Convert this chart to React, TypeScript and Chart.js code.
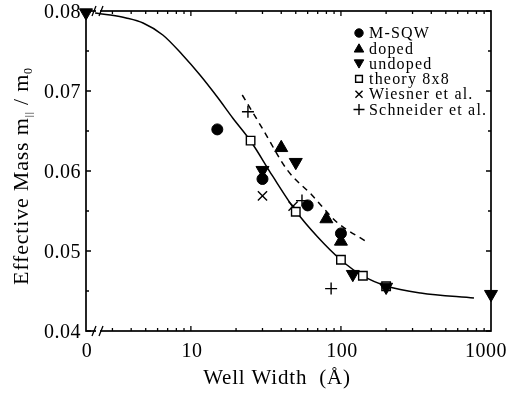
import React, { useEffect, useRef } from 'react';
import { Chart, registerables } from 'chart.js';
import { drawPoint } from 'chart.js/helpers';

Chart.register(...registerables);

const FONT = "'Liberation Serif', 'Times New Roman', serif";

// Axis: "0" sits at the axis break, drawn at this width on the log scale
const X_ZERO = 2;
const X_MAX = 1000;
const Y_MIN = 0.04;
const Y_MAX = 0.08;

const xTickValues = [X_ZERO, 10, 100, 1000];
const xTickLabels = ['0', '10', '100', '1000'];
const xMinorTicks = [3, 4, 5, 6, 7, 8, 9, 20, 30, 40, 50, 60, 70, 80, 90, 200, 300, 400, 500, 600, 700, 800, 900];
const yTickValues = [0.04, 0.05, 0.06, 0.07, 0.08];
const yTickLabels = ['0.04', '0.05', '0.06', '0.07', '0.08'];
const yMinorTicks = [0.045, 0.055, 0.065, 0.075];

const xTitle = 'Well Width  (Å)';

// Series (well width in Å, effective mass in m0)
const mSqwW = [15, 30, 60, 100];
const mSqwM = [0.0652, 0.059, 0.0557, 0.0522];

const dopedW = [40, 80, 100];
const dopedM = [0.0629, 0.054, 0.0512];

const undopedW = [X_ZERO, 30, 50, 120, 200, 1000];
const undopedM = [0.0798, 0.0601, 0.0611, 0.0471, 0.0455, 0.0446];

const theoryW = [25, 50, 100, 140, 200];
const theoryM = [0.0638, 0.0549, 0.0489, 0.0469, 0.0456];

const wiesnerW = [30, 48];
const wiesnerM = [0.0569, 0.0556];

const schneiderW = [24, 55, 86];
const schneiderM = [0.0674, 0.0563, 0.0453];

// Solid theory curve
const fitW = [2.3, 2.9, 3.7, 4.8, 6.5, 8.8, 11.5, 15, 19, 25, 35, 50, 70, 100, 140, 200, 340, 770];
const fitM = [0.07975, 0.0795, 0.07913, 0.0785, 0.077, 0.0745, 0.072, 0.06925, 0.06663, 0.06375, 0.05938, 0.055, 0.05175, 0.04888, 0.04688, 0.04563, 0.04475, 0.04413];

// Dashed curve
const dashW = [22, 30, 44, 64, 94, 150];
const dashM = [0.0695, 0.0653, 0.0601, 0.057, 0.0536, 0.0511];

const seriesNames = ['M-SQW', 'doped', 'undoped', 'theory 8x8', 'Wiesner et al.', 'Schneider et al.'];

const pts = (xs: number[], ys: number[]) => xs.map((x, i) => ({ x, y: ys[i] }));

const markerStyles = [
  { pointStyle: 'circle', radius: 5.5, rotation: 0, fill: '#000', lw: 1, legendR: 4.2 },
  { pointStyle: 'triangle', radius: 7.5, rotation: 0, fill: '#000', lw: 1, legendR: 5.5 },
  { pointStyle: 'triangle', radius: 7.5, rotation: 180, fill: '#000', lw: 1, legendR: 5.5 },
  { pointStyle: 'rect', radius: 6, rotation: 0, fill: '#fff', lw: 1.4, legendR: 4.8 },
  { pointStyle: 'crossRot', radius: 6.5, rotation: 0, fill: '#000', lw: 1.4, legendR: 5 },
  { pointStyle: 'cross', radius: 6, rotation: 0, fill: '#000', lw: 1.4, legendR: 5.5 },
];

const framePlugin = {
  id: 'frame',
  beforeDatasetsDraw(chart: any) {
    const { ctx, chartArea: a, scales } = chart;
    const x = scales.x;
    const y = scales.y;
    ctx.save();
    ctx.strokeStyle = '#000';
    ctx.lineWidth = 1.7;
    ctx.strokeRect(a.left, a.top, a.right - a.left, a.bottom - a.top);

    ctx.lineWidth = 1.3;
    ctx.beginPath();
    for (const v of yTickValues) {
      const py = y.getPixelForValue(v);
      ctx.moveTo(a.left, py); ctx.lineTo(a.left + 5, py);
      ctx.moveTo(a.right, py); ctx.lineTo(a.right - 5, py);
    }
    for (const v of yMinorTicks) {
      const py = y.getPixelForValue(v);
      ctx.moveTo(a.left, py); ctx.lineTo(a.left + 3, py);
      ctx.moveTo(a.right, py); ctx.lineTo(a.right - 3, py);
    }
    for (const v of xTickValues.slice(1, -1)) {
      const px = x.getPixelForValue(v);
      ctx.moveTo(px, a.top); ctx.lineTo(px, a.top + 5);
      ctx.moveTo(px, a.bottom); ctx.lineTo(px, a.bottom - 5);
    }
    for (const v of xMinorTicks) {
      const px = x.getPixelForValue(v);
      ctx.moveTo(px, a.top); ctx.lineTo(px, a.top + 3);
      ctx.moveTo(px, a.bottom); ctx.lineTo(px, a.bottom - 3);
    }
    ctx.stroke();

    // axis breaks
    for (const by of [a.top, a.bottom]) {
      const bx = a.left + 12;
      ctx.fillStyle = '#fff';
      ctx.fillRect(bx - 2, by - 2, 4, 4);
      ctx.beginPath();
      ctx.lineWidth = 1.3;
      ctx.moveTo(bx - 6, by + 5); ctx.lineTo(bx - 2, by - 5);
      ctx.moveTo(bx + 1, by + 5); ctx.lineTo(bx + 5, by - 5);
      ctx.stroke();
    }

    // tick labels
    ctx.fillStyle = '#000';
    ctx.font = `20px ${FONT}`;
    (ctx as any).letterSpacing = '0.5px';
    ctx.textAlign = 'right';
    ctx.textBaseline = 'alphabetic';
    yTickValues.forEach((v, i) => {
      const py = y.getPixelForValue(v);
      ctx.fillText(yTickLabels[i], a.left - 5, py + 7);
    });
    ctx.textAlign = 'center';
    const W = chart.width;
    xTickValues.forEach((v, i) => {
      const px = x.getPixelForValue(v);
      const half = ctx.measureText(xTickLabels[i]).width / 2;
      const cx = Math.min(px + 1, W - half - 1);
      ctx.fillText(xTickLabels[i], cx, a.bottom + 26);
    });

    // x title
    ctx.font = `21px ${FONT}`;
    (ctx as any).letterSpacing = '0.8px';
    ctx.fillText(xTitle, 277, a.bottom + 53);

    // y title with subscripts
    ctx.save();
    ctx.translate(28, 176);
    ctx.rotate(-Math.PI / 2);
    ctx.textAlign = 'left';
    const parts: [string, number, number][] = [
      ['Effective Mass m', 22, 0],
      ['||', 11, 4],
      [' / m', 22, 0],
      ['0', 12, 4],
    ];
    (ctx as any).letterSpacing = '0.8px';
    let total = 0;
    for (const [t, s] of parts) { ctx.font = `${s}px ${FONT}`; total += ctx.measureText(t).width; }
    let cx = -total / 2;
    for (const [t, s, dy] of parts) {
      ctx.font = `${s}px ${FONT}`;
      ctx.fillText(t, cx, dy);
      cx += ctx.measureText(t).width;
    }
    ctx.restore();
    ctx.restore();
  },
  afterDraw(chart: any) {
    const { ctx } = chart;
    ctx.save();
    const mx = 359;
    const tx = 369;
    const y0 = 33;
    const dy = 15.3;
    ctx.font = `16px ${FONT}`;
    (ctx as any).letterSpacing = '1.2px';
    ctx.textAlign = 'left';
    ctx.textBaseline = 'middle';
    seriesNames.forEach((name, i) => {
      const st = markerStyles[i];
      const py = y0 + i * dy;
      ctx.fillStyle = st.fill;
      ctx.strokeStyle = '#000';
      ctx.lineWidth = st.lw;
      drawPoint(ctx, { pointStyle: st.pointStyle as any, radius: st.legendR, rotation: st.rotation, borderWidth: st.lw }, mx, py + (st.pointStyle === 'triangle' ? (st.rotation ? -1 : 1) : 0));
      ctx.fillStyle = '#000';
      ctx.fillText(name, tx, py + 1);
    });
    ctx.restore();
  },
};

export default function App() {
  const ref = useRef<HTMLCanvasElement>(null);
  useEffect(() => {
    if (!ref.current) return;
    const seriesData = [
      pts(mSqwW, mSqwM),
      pts(dopedW, dopedM),
      pts(undopedW, undopedM),
      pts(theoryW, theoryM),
      pts(wiesnerW, wiesnerM),
      pts(schneiderW, schneiderM),
    ];
    const markerSets = seriesData.map((d, i) => {
      const st = markerStyles[i];
      return {
        label: seriesNames[i],
        data: d,
        showLine: false,
        pointStyle: st.pointStyle,
        pointRadius: st.radius,
        pointRotation: st.rotation,
        pointBackgroundColor: st.fill,
        pointBorderColor: '#000',
        pointBorderWidth: st.lw,
        clip: false as any,
      };
    });
    const chart = new Chart(ref.current, {
      type: 'scatter',
      data: {
        datasets: [
          ...markerSets,
          {
            label: 'fit',
            data: pts(fitW, fitM),
            showLine: true,
            pointRadius: 0,
            borderColor: '#000',
            borderWidth: 1.5,
            cubicInterpolationMode: 'monotone',
            clip: false as any,
          },
          {
            label: 'dashed',
            data: pts(dashW, dashM),
            showLine: true,
            pointRadius: 0,
            borderColor: '#000',
            borderWidth: 1.5,
            borderDash: [6, 5],
            cubicInterpolationMode: 'monotone',
            clip: false as any,
          },
        ] as any,
      },
      options: {
        responsive: false,
        animation: false,
        events: [],
        layout: { padding: { left: 86, top: 11, right: 17, bottom: 65 } },
        plugins: { legend: { display: false }, tooltip: { enabled: false } },
        scales: {
          x: { type: 'logarithmic', min: X_ZERO, max: X_MAX, display: false },
          y: { type: 'linear', min: Y_MIN, max: Y_MAX, display: false },
        },
      },
      plugins: [framePlugin],
    });
    return () => chart.destroy();
  }, []);
  return (
    <div style={{ position: 'absolute', left: 0, top: 0, width: 508, height: 396, background: '#fff' }}>
      <canvas ref={ref} width={508} height={396} style={{ display: 'block' }} />
    </div>
  );
}
